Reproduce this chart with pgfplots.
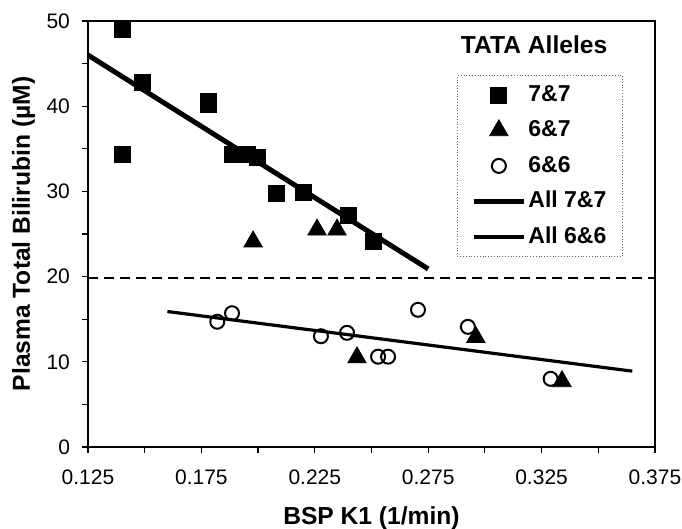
\documentclass[border=0pt]{standalone}
\usepackage{fontspec}
\setmainfont{Liberation Sans}
\usepackage{pgfplots}
\pgfplotsset{compat=1.18}
\pgfplotsset{
  markleg/.style={legend image code/.code={%
    \draw[##1, only marks] plot coordinates {(12.5pt,0pt)};
    \path[draw=none, fill=none] (0pt,0pt) rectangle (25pt,0.1pt);}},
  lineleg/.style={legend image code/.code={\draw[##1] (0pt,0pt) -- (25pt,0pt);}},
}

\begin{document}
\begin{tikzpicture}
\useasboundingbox (-44pt,-41pt) rectangle (297pt,223.5pt);
\begin{axis}[
  scale only axis,
  width=283.5pt, height=213pt,
  xmin=0.125, xmax=0.375,
  ymin=0, ymax=50,
  xtick={0.125,0.175,0.225,0.275,0.325,0.375},
  ytick={0,10,20,30,40,50},
  minor x tick num=1, minor y tick num=1,
  tick align=outside, tick pos=left,
  major tick length=3pt, minor tick length=3pt,
  tick style={line width=0.6pt, black},
  axis line style={line width=0.9pt},
  /pgf/number format/assume math mode=true,
  tick label style={font=\fontsize{10.5}{12}\selectfont},
  xticklabel style={/pgf/number format/fixed, /pgf/number format/fixed zerofill,
    /pgf/number format/precision=3, yshift=-5pt},
  yticklabel style={xshift=-2.5pt},
  xlabel={BSP K1 (1/min)},
  ylabel={Plasma Total Bilirubin (µM)},
  label style={font=\fontsize{12.3}{14}\selectfont\bfseries},
  xlabel style={at={(axis description cs:0.5,-0.1808)}, anchor=base},
  ylabel style={at={(axis description cs:-0.1023,0.5)}, anchor=base},
  legend style={at={(axis cs:0.2877,43.66)}, anchor=north west,
    draw=black!60, densely dotted, line width=0.4pt,
    font=\fontsize{11.5}{13}\selectfont\bfseries,
    inner xsep=7pt, inner ysep=2pt, row sep=2.25pt,
    nodes={inner xsep=1pt, inner ysep=2pt, text height=9pt, text depth=2.5pt}},
  legend cell align=left,
  clip=false,
]

% reference level
\addplot[black, solid, line width=0.8pt, dash pattern=on 5pt off 3pt, forget plot]
  coordinates {(0.125,19.8) (0.375,19.8)};

% 7&7
\addplot[only marks, mark=square*, mark size=4pt, black, solid, mark options={solid}, markleg]
  coordinates {
  (0.140,49.0) (0.140,34.4) (0.149,42.8) (0.178,40.6) (0.178,40.2)
  (0.1885,34.4) (0.1955,34.4) (0.1995,34.0) (0.208,29.8) (0.220,29.9)
  (0.2396,27.2) (0.2507,24.1)
};
\addlegendentry{7\&7}

% 6&7
\addplot[only marks, mark=triangle*, mark size=5.3pt, black, solid, mark options={solid}, markleg]
  coordinates {
  (0.1978,24.1) (0.226,25.5) (0.2348,25.5) (0.2436,10.5) (0.296,12.9) (0.334,7.7)
};
\addlegendentry{6\&7}

% 6&6
\addplot[only marks, mark=o, mark size=3.5pt, black, solid, mark options={solid, line width=1pt}, markleg]
  coordinates {
  (0.182,14.7) (0.1885,15.7) (0.2277,13.0) (0.2392,13.4) (0.2529,10.6)
  (0.2573,10.6) (0.2705,16.1) (0.2925,14.1) (0.329,8.0)
};
\addlegendentry{6\&6}

% fitted lines
\addplot[black, solid, line width=2.5pt, no marks, lineleg]
  coordinates {(0.125,46.0) (0.275,20.9)};
\addlegendentry{All 7\&7}

\addplot[black, solid, line width=1.6pt, no marks, lineleg]
  coordinates {(0.160,15.9) (0.365,8.9)};
\addlegendentry{All 6\&6}

\node[font=\fontsize{12.3}{14}\selectfont\bfseries, anchor=base]
  at (axis cs:0.3217,46.2) {TATA Alleles};

\end{axis}
\end{tikzpicture}
\end{document}
